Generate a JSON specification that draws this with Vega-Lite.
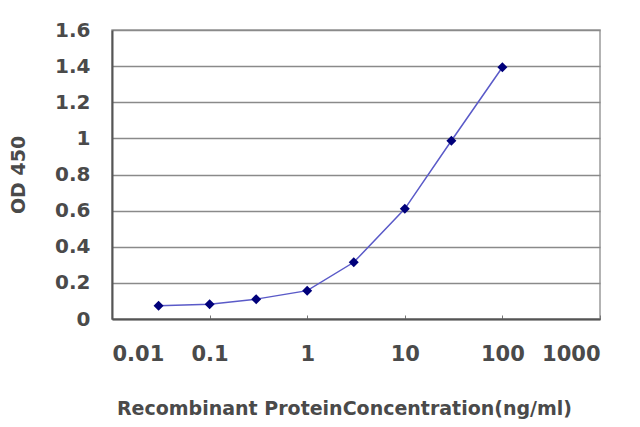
{
  "$schema": "https://vega.github.io/schema/vega-lite/v6.json",
  "width": 488,
  "height": 289,
  "autosize": "none",
  "padding": {"left": 112, "top": 30, "right": 40, "bottom": 108},
  "background": "white",
  "data": {
    "values": [
      {"conc": 0.03, "od": 0.074},
      {"conc": 0.1, "od": 0.082},
      {"conc": 0.3, "od": 0.11},
      {"conc": 1, "od": 0.157},
      {"conc": 3, "od": 0.314},
      {"conc": 10, "od": 0.61},
      {"conc": 30, "od": 0.987},
      {"conc": 100, "od": 1.394}
    ]
  },
  "encoding": {
    "x": {
      "field": "conc",
      "type": "quantitative",
      "title": "Recombinant ProteinConcentration(ng/ml)",
      "scale": {"type": "log", "domain": [0.01, 1000], "nice": false},
      "axis": {
        "values": [0.01, 0.1, 1, 10, 100, 1000],
        "format": "~g",
        "grid": false,
        "domainColor": "#555555",
        "domainWidth": 2,
        "tickSize": -4,
        "tickColor": "#777777",
        "labelFont": "DejaVu Sans",
        "labelFontSize": 21,
        "labelFontWeight": "bold",
        "labelColor": "#4a4a4a",
        "labelPadding": 28,
        "titleFont": "DejaVu Sans",
        "titleFontSize": 19,
        "titleFontWeight": "bold",
        "titleColor": "#4a4a4a",
        "titlePadding": 35,
        "titleX": 232
      }
    },
    "y": {
      "field": "od",
      "type": "quantitative",
      "title": "OD 450",
      "scale": {"domain": [0, 1.6], "nice": false},
      "axis": {
        "values": [0, 0.2, 0.4, 0.6, 0.8, 1, 1.2, 1.4, 1.6],
        "format": ".1~f",
        "gridColor": "#8a8a8a",
        "gridWidth": 1.5,
        "domainColor": "#555555",
        "domainWidth": 2,
        "ticks": false,
        "labelFont": "DejaVu Sans",
        "labelFontSize": 20,
        "labelFontWeight": "bold",
        "labelColor": "#4a4a4a",
        "labelPadding": 22,
        "titleFont": "DejaVu Sans",
        "titleFontSize": 19,
        "titleFontWeight": "bold",
        "titleColor": "#4a4a4a",
        "titlePadding": 26
      }
    }
  },
  "layer": [
    {"mark": {"type": "line", "color": "#5a5ac8", "strokeWidth": 1.5}},
    {"mark": {"type": "point", "shape": "diamond", "filled": true, "color": "#00007a", "size": 100, "opacity": 1}}
  ],
  "config": {
    "view": {"stroke": "#9a9a9a", "strokeWidth": 1.5}
  }
}
